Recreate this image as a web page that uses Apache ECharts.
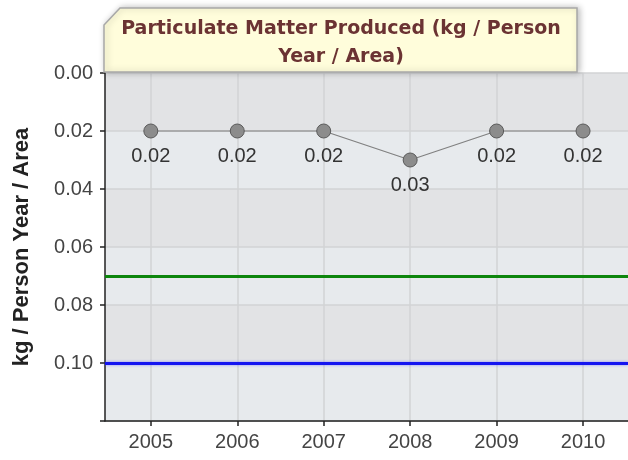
<!DOCTYPE html>
<html><head><meta charset="utf-8">
<script src="https://cdn.jsdelivr.net/npm/echarts@6/dist/echarts.min.js"></script>
<style>html,body{margin:0;padding:0;background:#fff}#c{width:628px;height:460px}</style>
</head><body><div id="c"></div>
<script>
var years = [2005, 2006, 2007, 2008, 2009, 2010];
var values = [0.02, 0.02, 0.02, 0.03, 0.02, 0.02];
var yTicks = [0.00, 0.02, 0.04, 0.06, 0.08, 0.10];
var greenLine = 0.07;
var blueLine = 0.10;
var titleLines = ['Particulate Matter Produced (kg / Person', 'Year / Area)'];
var yName = 'kg / Person Year / Area';

var chart = echarts.init(document.getElementById('c'));
chart.setOption({
  animation: false,
  backgroundColor: '#fff',
  grid: {left: 105, right: 0, top: 73, bottom: 39, show: false, outerBoundsMode: 'none', containLabel: false},
  graphic: [{
    type: 'polygon',
    shape: {points: [[120, 8], [577, 8], [577, 72], [104, 72], [104, 25]]},
    style: {fill: '#fffddb', stroke: '#a8a8a8', lineWidth: 1.5, shadowBlur: 6, shadowColor: 'rgba(0,0,0,0.25)', shadowOffsetX: 2, shadowOffsetY: 0},
    z: 10
  }, {
    type: 'text',
    x: 341, y: 43,
    style: {text: titleLines.join('\n'), align: 'center', verticalAlign: 'middle',
      font: 'bold 19px "DejaVu Sans"', fill: '#6b3333', lineHeight: 28},
    z: 11
  }],
  xAxis: {
    type: 'value',
    min: 2004.47, max: 2010.52,
    axisLine: {show: true, onZero: false, lineStyle: {color: '#222', width: 1.5}},
    axisTick: {show: true, length: 5, customValues: years, lineStyle: {color: '#222', width: 1.5}},
    axisLabel: {customValues: years, color: '#444', fontSize: 20, fontFamily: 'Liberation Sans', margin: 11,
      formatter: function (v) { return String(Math.round(v)); }},
    splitLine: {show: true, lineStyle: {color: '#d2d3d5', width: 1.5}}
  },
  yAxis: {
    type: 'value', inverse: true, min: 0, max: 0.12, interval: 0.02,
    name: yName, nameLocation: 'middle', nameGap: 72,
    nameTextStyle: {fontSize: 22, fontWeight: 'bold', color: '#222', fontFamily: 'Liberation Sans'},
    axisLine: {show: true, lineStyle: {color: '#222', width: 1.5}},
    axisTick: {show: true, length: 5, lineStyle: {color: '#222', width: 1.5}},
    axisLabel: {color: '#444', fontSize: 20, fontFamily: 'Liberation Sans', margin: 12,
      formatter: function (v) { return yTicks.some(function (t) { return Math.abs(t - v) < 1e-9; }) ? v.toFixed(2) : ''; }},
    splitLine: {show: true, lineStyle: {color: '#d2d3d5', width: 1.5}},
    splitArea: {show: true, areaStyle: {color: ['#e2e3e5', '#e7eaed']}}
  },
  series: [{
    type: 'line',
    data: years.map(function (y, i) { return [y, values[i]]; }),
    symbol: 'circle', symbolSize: 14,
    lineStyle: {color: '#808080', width: 1.2},
    itemStyle: {color: '#8c8c8c', borderColor: '#5a5a5a', borderWidth: 1},
    label: {show: true, position: 'bottom', distance: 8, color: '#333', fontSize: 20, fontFamily: 'Liberation Sans',
      formatter: function (p) { return p.value[1].toFixed(2); }},
    z: 5,
    markLine: {
      silent: true, symbol: 'none', label: {show: false},
      data: [
        {yAxis: greenLine, lineStyle: {color: '#0d860d', width: 3, type: 'solid'}},
        {yAxis: blueLine, lineStyle: {color: '#1414f0', width: 3, type: 'solid', shadowColor: 'rgba(80,80,255,0.6)', shadowBlur: 3}}
      ]
    }
  }]
});
</script></body></html>
